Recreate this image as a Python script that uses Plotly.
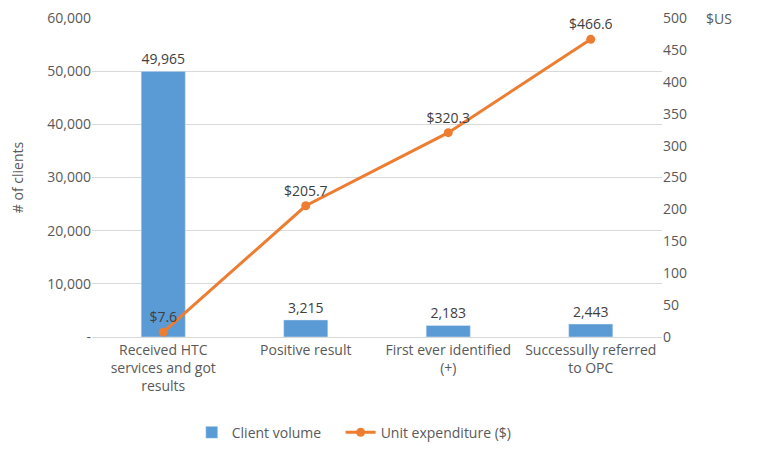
import plotly.graph_objects as go

categories = ['Received HTC<br>services and got<br>results', 'Positive result',
              'First ever identified<br>(+)', 'Successully referred<br>to OPC']
client_volume = [49965, 3215, 2183, 2443]
unit_expenditure = [7.6, 205.7, 320.3, 466.6]

left_ticks = [0, 10000, 20000, 30000, 40000, 50000, 60000]
left_labels = ['-', '10,000', '20,000', '30,000', '40,000', '50,000', '60,000']
right_ticks = [0, 50, 100, 150, 200, 250, 300, 350, 400, 450, 500]

grey = '#595959'
fam = 'Open Sans, Liberation Sans, sans-serif'
font = dict(family=fam, size=14, color=grey)

fig = go.Figure()
fig.add_trace(go.Bar(
    x=categories,
    y=client_volume,
    name='Client volume\u00a0\u00a0\u00a0\u00a0',
    marker=dict(color='#5b9bd5'),
    width=0.31,
    text=[f'{v:,}' for v in client_volume],
    textposition='outside',
    textfont=dict(family=fam, size=14, color='#404040'),
    cliponaxis=False
))
fig.add_trace(go.Scatter(
    x=categories,
    y=unit_expenditure,
    name='Unit expenditure ($)',
    yaxis='y2',
    mode='lines+markers+text',
    line=dict(color='#ed7d31', width=3),
    marker=dict(size=9, color='#ed7d31'),
    text=[f'${v}' for v in unit_expenditure],
    textposition='top center',
    textfont=dict(family=fam, size=14, color='#404040'),
    cliponaxis=False
))

# page body has an 8px margin, so shift things up/left a bit
fig.update_layout(
    width=759, height=457,
    margin=dict(l=84, r=105, t=10, b=128),
    plot_bgcolor='white', paper_bgcolor='white',
    font=font,
    bargap=0.69,
    showlegend=True,
    legend=dict(orientation='h', x=0.175, xanchor='left', y=-0.25, yanchor='top',
                font=dict(family=fam, size=14, color=grey)),
    xaxis=dict(showgrid=False, showline=True, linecolor='#d9d9d9', ticks='',
               automargin=False, tickfont=dict(family=fam, size=14, color=grey)),
    yaxis=dict(range=[0, 60000], tickvals=left_ticks, ticktext=left_labels,
               showgrid=True, gridcolor='#d9d9d9', zeroline=False, automargin=False,
               ticklabeloverflow='allow',
               title=dict(text='# of clients', font=dict(family=fam, size=14, color=grey),
                          standoff=38),
               tickfont=dict(family=fam, size=14, color=grey)),
    yaxis2=dict(range=[0, 500], tickvals=right_ticks, overlaying='y', side='right',
                showgrid=False, zeroline=False, automargin=False,
                ticklabeloverflow='allow',
                tickfont=dict(family=fam, size=14, color=grey)),
    annotations=[dict(x=1.0, y=1.0, xref='paper', yref='paper', text='$US',
                      showarrow=False, xanchor='left', yanchor='middle', xshift=42,
                      font=dict(family=fam, size=14, color=grey))]
)

fig.write_html('out.html')
